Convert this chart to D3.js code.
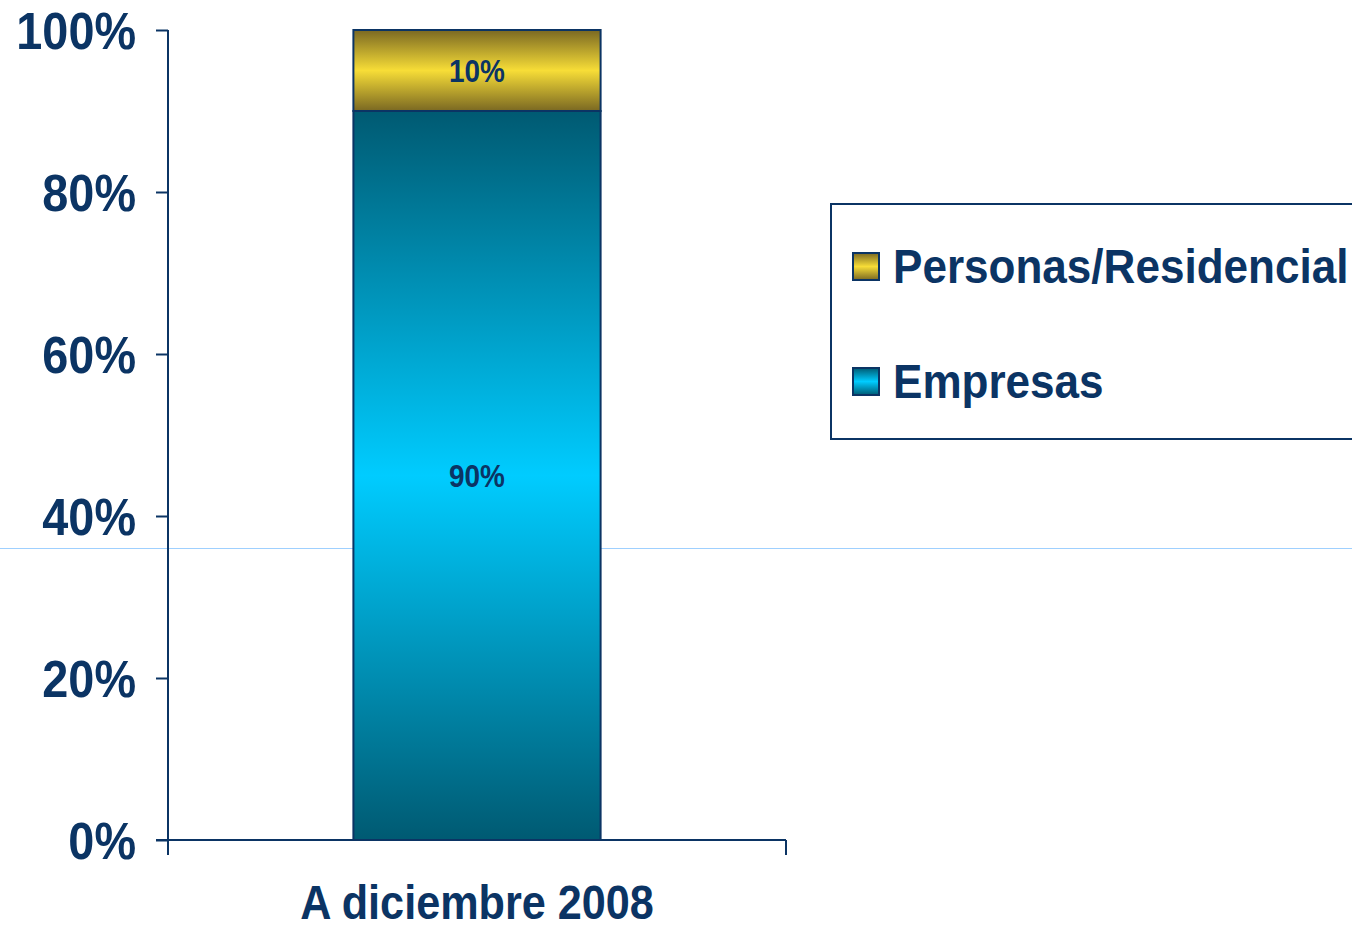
<!DOCTYPE html>
<html>
<head>
<meta charset="utf-8">
<script src="https://d3js.org/d3.v7.min.js"></script>
<style>
body { margin: 0; background: #fff; }
text { font-family: "Liberation Sans", Arial, sans-serif; font-weight: bold; fill: #0b3464; }
</style>
</head>
<body>
<div id="chart"></div>
<script>
var categories = ["A diciembre 2008"];
var series = ["Empresas", "Personas/Residencial"];
var empresas = [90];
var personas = [10];
var yTicks = [0, 20, 40, 60, 80, 100];
var legendOrder = ["Personas/Residencial", "Empresas"];

var width = 1352, height = 929;
var navy = "#0b3464";

var svg = d3.select("#chart").append("svg")
	.attr("width", width)
	.attr("height", height);

var defs = svg.append("defs");
function addGrad(id, edge, mid) {
	var g = defs.append("linearGradient").attr("id", id)
		.attr("x1", 0).attr("y1", 0).attr("x2", 0).attr("y2", 1);
	g.append("stop").attr("offset", "0%").attr("stop-color", edge);
	g.append("stop").attr("offset", "50%").attr("stop-color", mid);
	g.append("stop").attr("offset", "100%").attr("stop-color", edge);
}
addGrad("gEmp", "#005a72", "#00ccff");
addGrad("gPer", "#7a6822", "#f7dd37");
var colors = { "Empresas": "url(#gEmp)", "Personas/Residencial": "url(#gPer)" };

var x = d3.scaleBand().domain(categories).range([168, 786]).paddingInner(0).paddingOuter(0.75);
var y = d3.scaleLinear().domain([0, 100]).range([840, 30]);

// stray light blue rule
svg.append("line")
	.attr("x1", 0).attr("x2", width)
	.attr("y1", 548.5).attr("y2", 548.5)
	.attr("stroke", "#9fd0ff").attr("stroke-width", 1);

var stackData = categories.map(function(c, i) {
	return { cat: c, "Empresas": empresas[i], "Personas/Residencial": personas[i] };
});
var stack = d3.stack().keys(series)(stackData);

var layers = svg.selectAll("g.layer").data(stack).enter().append("g").attr("class", "layer");
layers.selectAll("rect")
	.data(function(d) { return d.map(function(p) { p.key = d.key; return p; }); })
	.enter().append("rect")
	.attr("x", function(d) { return x(d.data.cat); })
	.attr("width", x.bandwidth())
	.attr("y", function(d) { return y(d[1]); })
	.attr("height", function(d) { return y(d[0]) - y(d[1]); })
	.attr("fill", function(d) { return colors[d.key]; })
	.attr("stroke", navy)
	.attr("stroke-width", 2);

layers.selectAll("text")
	.data(function(d) { return d.map(function(p) { p.key = d.key; return p; }); })
	.enter().append("text")
	.attr("text-anchor", "middle")
	.attr("font-size", 31)
	.attr("transform", function(d) {
		var cx = x(d.data.cat) + x.bandwidth() / 2;
		var cy = (y(d[0]) + y(d[1])) / 2 + 11;
		return "translate(" + cx + "," + cy + ") scale(0.9,1)";
	})
	.text(function(d) { return (d[1] - d[0]) + "%"; });

// y axis
var yAxis = svg.append("g").attr("transform", "translate(168,0)")
	.call(d3.axisLeft(y).tickValues(yTicks).tickSize(12).tickFormat(function(d) { return d + "%"; }));
yAxis.select(".domain").attr("stroke", navy).attr("stroke-width", 2).attr("d", "M0,30V840");
yAxis.selectAll(".tick line").attr("stroke", navy).attr("stroke-width", 2);
yAxis.selectAll(".tick text")
	.attr("font-size", 52)
	.attr("fill", navy)
	.attr("font-family", null)
	.attr("x", 0).attr("dy", "0.36em")
	.attr("transform", "translate(-32,0) scale(0.9,1)");

// x axis
var xAxis = svg.append("g").attr("transform", "translate(0,840)");
xAxis.append("line").attr("x1", 156).attr("x2", 786).attr("y1", 0).attr("y2", 0)
	.attr("stroke", navy).attr("stroke-width", 2);
[168, 786].forEach(function(px) {
	xAxis.append("line").attr("x1", px).attr("x2", px).attr("y1", 0).attr("y2", 15)
		.attr("stroke", navy).attr("stroke-width", 2);
});
xAxis.selectAll("text.cat").data(categories).enter().append("text")
	.attr("class", "cat")
	.attr("text-anchor", "middle")
	.attr("font-size", 48)
	.attr("transform", function(d) {
		return "translate(" + (x(d) + x.bandwidth() / 2) + ",79) scale(0.9,1)";
	})
	.text(function(d) { return d; });

// legend
var legend = svg.append("g");
legend.append("rect")
	.attr("x", 831).attr("y", 204).attr("width", 540).attr("height", 235)
	.attr("fill", "none").attr("stroke", navy).attr("stroke-width", 2);
var li = legend.selectAll("g.item").data(legendOrder).enter().append("g")
	.attr("class", "item")
	.attr("transform", function(d, i) { return "translate(853," + (253 + i * 115) + ")"; });
li.append("rect")
	.attr("width", 26).attr("height", 27)
	.attr("fill", function(d) { return colors[d]; })
	.attr("stroke", navy).attr("stroke-width", 2);
li.append("text")
	.attr("font-size", 48)
	.attr("transform", "translate(40,30) scale(0.918,1)")
	.text(function(d) { return d; });
</script>
</body>
</html>
